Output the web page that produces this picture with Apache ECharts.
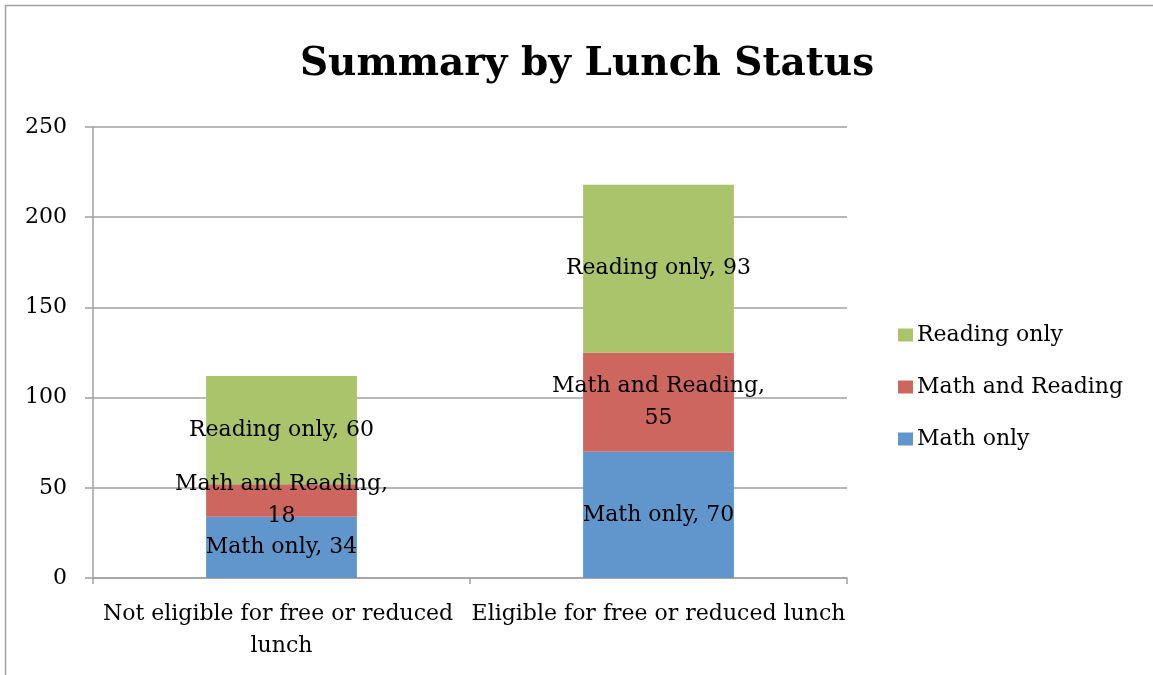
<!DOCTYPE html>
<html>
<head>
<meta charset="utf-8">
<script src="https://cdn.jsdelivr.net/npm/echarts@6/dist/echarts.min.js"></script>
<style>
html,body{margin:0;padding:0;background:#fff;}
#chart{width:1153px;height:675px;}
</style>
</head>
<body>
<div id="chart"></div>
<script>
const titleText = 'Summary by Lunch Status';
const categories = ['Not eligible for free or reduced lunch', 'Eligible for free or reduced lunch'];
const mathOnly = [34, 70];
const mathAndReading = [18, 55];
const readingOnly = [60, 93];
const seriesNames = ['Math only', 'Math and Reading', 'Reading only'];
const yTicks = { min: 0, max: 250, interval: 50 };

const FONT = 'DejaVu Serif';
const FS = 22;
const chart = echarts.init(document.getElementById('chart'), null, { renderer: 'canvas' });

function barSeries(name, data, color, fmt) {
  return {
    name: name,
    type: 'bar',
    stack: 'total',
    data: data,
    barWidth: '40%',
    itemStyle: { color: color },
    label: {
      show: true,
      position: 'inside',
      formatter: fmt,
      color: '#000',
      fontFamily: FONT,
      fontSize: FS,
      lineHeight: 32,
      align: 'center'
    },
    emphasis: { disabled: true }
  };
}

chart.setOption({
  animation: false,
  backgroundColor: '#fff',
  title: {
    text: titleText,
    left: 582,
    textAlign: 'center',
    top: 40,
    textStyle: { fontFamily: FONT, fontWeight: 'bold', fontSize: 39, color: '#000' }
  },
  graphic: [{
    type: 'rect',
    shape: { x: 5.5, y: 5.5, width: 1300, height: 800 },
    style: { fill: 'none', stroke: '#a0a0a0', lineWidth: 1.5 },
    silent: true
  }],
  legend: {
    orient: 'vertical',
    left: 893,
    top: 319,
    itemWidth: 15,
    itemHeight: 13,
    itemGap: 30,
    icon: 'rect',
    data: [seriesNames[2], seriesNames[1], seriesNames[0]],
    textStyle: { fontFamily: FONT, fontSize: FS, color: '#000', padding: [0, 0, 0, -1] }
  },
  grid: { left: 93, right: 306, top: 127, bottom: 97, containLabel: false },
  xAxis: {
    type: 'category',
    data: categories,
    axisLine: { lineStyle: { color: '#a0a0a0', width: 1.5 } },
    axisTick: { show: true, length: 6, lineStyle: { color: '#a0a0a0', width: 1.5 } },
    axisLabel: {
      interval: 0,
      margin: 20,
      color: '#000',
      fontFamily: FONT,
      fontSize: FS,
      lineHeight: 32,
      width: 385,
      overflow: 'break'
    }
  },
  yAxis: {
    type: 'value',
    min: yTicks.min,
    max: yTicks.max,
    interval: yTicks.interval,
    axisLine: { show: true, lineStyle: { color: '#a0a0a0', width: 1.5 } },
    axisTick: { show: true, length: 8, lineStyle: { color: '#a0a0a0', width: 1.5 } },
    splitLine: { lineStyle: { color: '#a0a0a0', width: 1.5 } },
    axisLabel: { margin: 26, color: '#000', fontFamily: FONT, fontSize: FS, padding: [8, 0, 0, 0] }
  },
  series: [
    barSeries(seriesNames[0], mathOnly, '#6096CB', '{a}, {c}'),
    barSeries(seriesNames[1], mathAndReading, '#CD665F', '{a},\n{c}'),
    barSeries(seriesNames[2], readingOnly, '#A9C46A', '{a}, {c}')
  ]
});
</script>
</body>
</html>
